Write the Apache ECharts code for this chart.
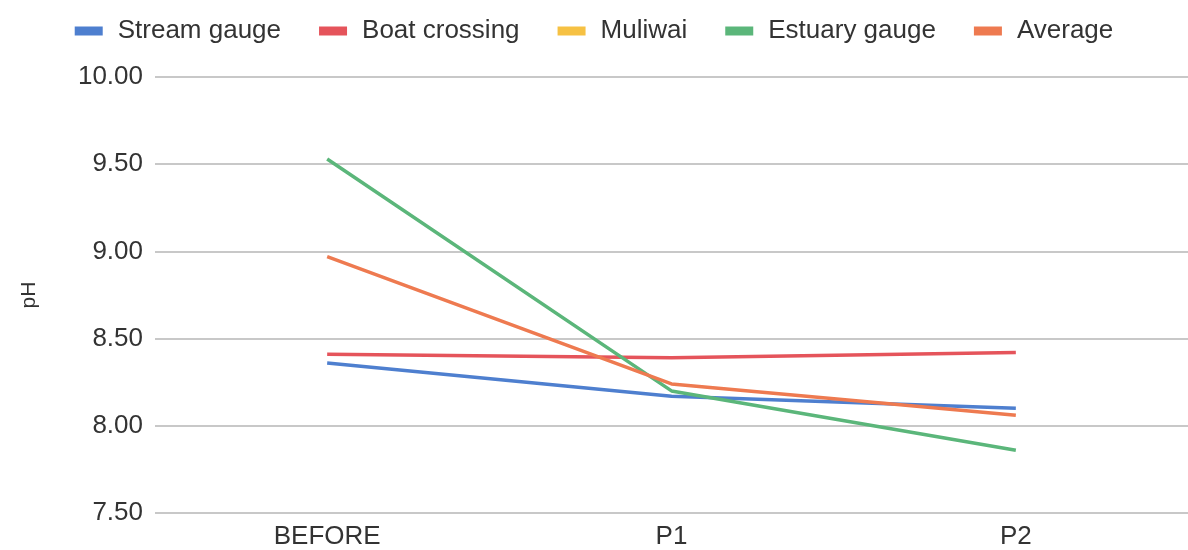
<!DOCTYPE html>
<html>
<head>
<meta charset="utf-8">
<script src="https://cdn.jsdelivr.net/npm/echarts@6/dist/echarts.min.js"></script>
<style>
html,body{margin:0;padding:0;background:#fff;}
#chart_ph{width:1188px;height:550px;}
</style>
</head>
<body>
<div id="chart_ph"></div>
<script>
var categories = ['BEFORE', 'P1', 'P2'];
var streamGauge = [8.36, 8.17, 8.10];
var boatCrossing = [8.41, 8.39, 8.42];
var muliwai = [null, null, null];
var estuaryGauge = [9.53, 8.20, 7.86];
var average = [8.97, 8.24, 8.06];
var yTicks = [7.5, 10, 0.5];

var chartDom = document.getElementById('chart_ph');
var myChart = echarts.init(chartDom);

function lineSeries(name, data, color){
	return {
		name: name,
		type: 'line',
		data: data,
		symbol: 'none',
		lineStyle: {width: 3.5, color: color},
		itemStyle: {color: color}
	};
}

myChart.setOption({
	animation: false,
	textStyle: {fontFamily: 'Liberation Sans, Arial, sans-serif'},
	legend: {
		top: 13,
		left: 'center',
		itemWidth: 28,
		itemHeight: 9,
		itemGap: 38,
		icon: 'rect',
		textStyle: {fontSize: 26, color: '#333', padding: [0, 0, 0, 10]}
	},
	grid: {left: 155, right: 0, top: 77, bottom: 37},
	xAxis: {
		type: 'category',
		data: categories,
		boundaryGap: true,
		axisLine: {show: false},
		axisTick: {show: false},
		axisLabel: {fontSize: 26, color: '#333', margin: 11}
	},
	yAxis: {
		type: 'value',
		name: 'pH',
		nameLocation: 'middle',
		nameGap: 115,
		nameTextStyle: {fontSize: 21, color: '#333'},
		min: yTicks[0],
		max: yTicks[1],
		interval: yTicks[2],
		axisLine: {show: false},
		axisTick: {show: false},
		axisLabel: {
			fontSize: 26, color: '#333', margin: 12,
			formatter: function(v){ return v.toFixed(2); }
		},
		splitLine: {lineStyle: {color: '#c8c8c8', width: 2}}
	},
	series: [
		lineSeries('Stream gauge', streamGauge, '#4e7fcf'),
		lineSeries('Boat crossing', boatCrossing, '#e5545b'),
		lineSeries('Muliwai', muliwai, '#f6c143'),
		lineSeries('Estuary gauge', estuaryGauge, '#5bb67a'),
		lineSeries('Average', average, '#ee7a50')
	]
});
window.addEventListener('resize', function(){ myChart.resize(); });
</script>
</body>
</html>
